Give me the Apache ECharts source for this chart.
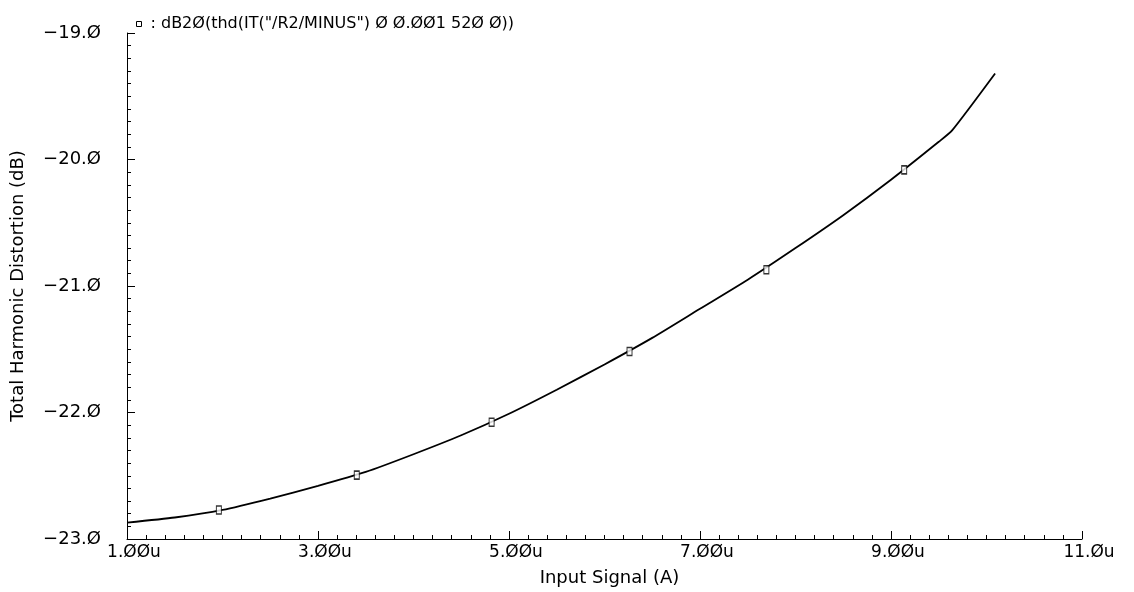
<!DOCTYPE html>
<html>
<head>
<meta charset="utf-8">
<script src="https://cdn.jsdelivr.net/npm/echarts@6/dist/echarts.min.js"></script>
<style>
  html, body { margin: 0; padding: 0; background: #ffffff; }
  #chart { width: 1134px; height: 592px; }
</style>
</head>
<body>
<div id="chart"></div>
<script>
// THD sweep: input current (µA) against total harmonic distortion (dB)
const inputSignal = [1.0, 1.5, 2.0, 2.5, 3.0, 3.5, 4.0, 4.5, 5.0, 5.5, 6.0, 6.5, 7.0, 7.5, 8.0, 8.5, 9.0, 9.5, 9.64, 10.09];
const thdDb       = [-22.87, -22.83, -22.77, -22.68, -22.58, -22.47, -22.33, -22.18, -22.01, -21.82, -21.62, -21.41, -21.18, -20.95, -20.70, -20.44, -20.16, -19.86, -19.77, -19.32];

// trace markers spaced along the curve
const markerSignal = [1.962, 3.406, 4.818, 6.262, 7.695, 9.138];
const markerThd    = [-22.77, -22.495, -22.077, -21.517, -20.871, -20.082];

// axis tick values and their printed labels
const xTickValues = [1, 3, 5, 7, 9, 11];
const xTickText   = ['1.ØØu', '3.ØØu', '5.ØØu', '7.ØØu', '9.ØØu', '11.Øu'];
const yTickValues = [-23, -22, -21, -20, -19];
const yTickText   = ['−23.Ø', '−22.Ø', '−21.Ø', '−20.Ø', '−19.Ø'];

const traceName = ': dB2Ø(thd(IT("/R2/MINUS") Ø Ø.ØØ1 52Ø Ø))';

const FONT = '"DejaVu Sans", sans-serif';
const INK = '#000000';

function lookup(values, texts) {
  return function (v) {
    for (let i = 0; i < values.length; i++) {
      if (Math.abs(values[i] - v) < 1e-6) return texts[i];
    }
    return '';
  };
}

const chart = echarts.init(document.getElementById('chart'), null, { renderer: 'canvas' });

chart.setOption({
  animation: false,
  backgroundColor: '#ffffff',
  grid: { left: 127, right: 52, top: 33, bottom: 51, containLabel: false },
  legend: {
    show: true,
    left: 131,
    top: 11,
    itemWidth: 5,
    itemHeight: 5,
    itemGap: 0,
    textStyle: { fontFamily: FONT, fontSize: 16, color: INK, padding: [0, 0, 0, 4] },
    data: [{
      name: traceName,
      icon: 'rect',
      itemStyle: { color: '#ffffff', borderColor: INK, borderWidth: 1 }
    }]
  },
  xAxis: {
    type: 'value',
    min: 1,
    max: 11,
    interval: 2,
    name: 'Input Signal (A)',
    nameLocation: 'middle',
    nameGap: 30,
    nameTextStyle: { fontFamily: FONT, fontSize: 18, color: INK, padding: [0, 0, 0, 10] },
    axisLine: { show: true, lineStyle: { color: INK, width: 1 } },
    axisTick: { show: true, inside: true, length: 8, lineStyle: { color: INK, width: 1 } },
    minorTick: { show: true, splitNumber: 10, length: 4, lineStyle: { color: INK, width: 1 } },
    splitLine: { show: false },
    axisLabel: {
      show: true,
      margin: 5,
      fontFamily: FONT,
      fontSize: 17,
      color: INK,
      padding: [0, 0, 0, 14],
      formatter: lookup(xTickValues, xTickText)
    }
  },
  yAxis: {
    type: 'value',
    min: -23,
    max: -19,
    interval: 1,
    name: 'Total Harmonic Distortion (dB)',
    nameLocation: 'middle',
    nameGap: 100,
    nameRotate: 90,
    nameTextStyle: { fontFamily: FONT, fontSize: 18, color: INK },
    axisLine: { show: true, lineStyle: { color: INK, width: 1 } },
    axisTick: { show: true, inside: true, length: 8, lineStyle: { color: INK, width: 1 } },
    minorTick: { show: true, splitNumber: 10, length: 4, lineStyle: { color: INK, width: 1 } },
    splitLine: { show: false },
    axisLabel: {
      show: true,
      margin: 26,
      fontFamily: FONT,
      fontSize: 18,
      color: INK,
      padding: [0, 0, 8, 0],
      formatter: lookup(yTickValues, yTickText)
    }
  },
  series: [
    {
      name: traceName,
      type: 'line',
      data: inputSignal.map((x, i) => [x, thdDb[i]]),
      showSymbol: false,
      smooth: 0.2,
      lineStyle: { color: INK, width: 1.8 },
      itemStyle: { color: INK },
      z: 2
    },
    {
      name: 'markers',
      type: 'scatter',
      data: markerSignal.map((x, i) => [x, markerThd[i]]),
      symbol: 'rect',
      symbolSize: [5, 8],
      itemStyle: { color: '#ffffff', borderColor: INK, borderWidth: 1.2 },
      z: 3
    }
  ]
});
</script>
</body>
</html>
